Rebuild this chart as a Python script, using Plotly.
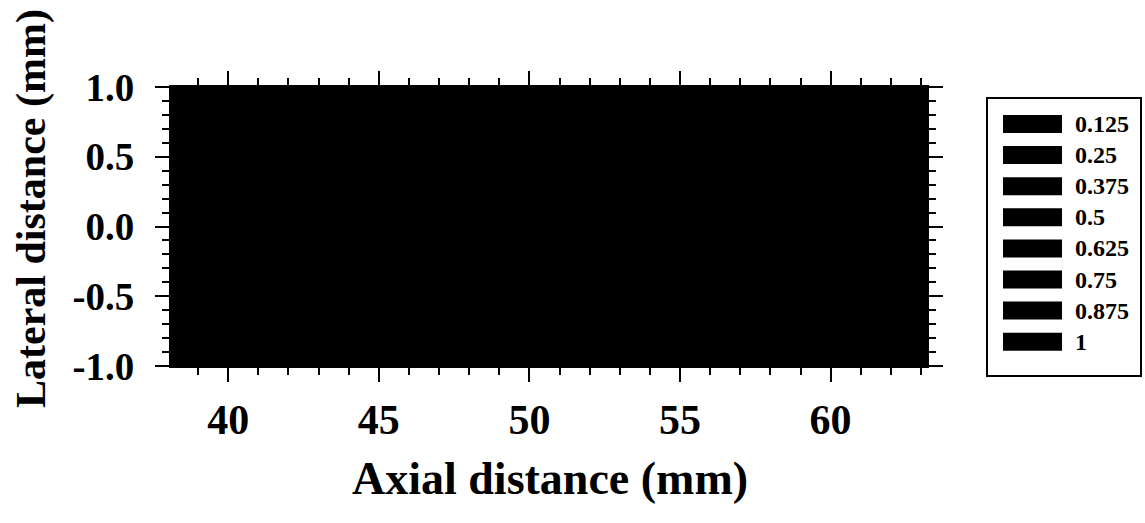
import plotly.graph_objects as go

# ---------------- data ----------------
x_mm = [38.1, 42.0, 46.0, 50.0, 54.0, 58.0, 63.2]
y_mm = [-1.0, -0.5, 0.0, 0.5, 1.0]
intensity = [
    [0.30, 0.38, 0.45, 0.50, 0.46, 0.39, 0.31],
    [0.55, 0.66, 0.78, 0.84, 0.79, 0.67, 0.56],
    [0.70, 0.82, 0.95, 1.00, 0.96, 0.83, 0.71],
    [0.56, 0.67, 0.79, 0.85, 0.80, 0.68, 0.55],
    [0.31, 0.39, 0.46, 0.51, 0.47, 0.38, 0.30],
]
levels = [0.125, 0.25, 0.375, 0.5, 0.625, 0.75, 0.875, 1.0]
level_labels = ["0.125", "0.25", "0.375", "0.5", "0.625", "0.75", "0.875", "1"]
x_ticks = [40, 45, 50, 55, 60]
y_ticks = [-1.0, -0.5, 0.0, 0.5, 1.0]
y_tick_labels = ["-1.0", "-0.5", "0.0", "0.5", "1.0"]

# ---------------- layout geometry ----------------
W, H = 1145, 523
L, R, T, B = 171, 218, 87, 157
PW, PH = W - L - R, H - T - B


def px(xp):
    return (xp - L) / PW


def py(yp):
    return (H - B - yp) / PH


FONT = "Liberation Serif, Times New Roman, serif"

fig = go.Figure()
fig.add_trace(go.Contour(
    x=x_mm, y=y_mm, z=intensity,
    colorscale=[[0, "black"], [1, "black"]],
    showscale=False,
    contours=dict(start=levels[0], end=levels[-1], size=levels[1] - levels[0], coloring="fill"),
    line=dict(width=0, color="black"),
    hoverinfo="skip",
))

axis_common = dict(
    showgrid=False, zeroline=False,
    showline=True, linecolor="black", linewidth=2,
    mirror="allticks", ticks="outside", ticklen=14, tickwidth=2, tickcolor="black",
    ticklabelposition="outside",
)

fig.update_xaxes(
    range=[x_mm[0], x_mm[-1]], tickvals=x_ticks, ticktext=[str(v) for v in x_ticks],
    minor=dict(dtick=1, ticks="outside", ticklen=7, tickwidth=2, tickcolor="black"),
    ticklabelstandoff=2,
    tickfont=dict(family=FONT, size=42, color="black", weight="bold"),
    **axis_common,
)
fig.update_yaxes(
    range=[y_mm[0], y_mm[-1]], tickvals=y_ticks,
    ticktext=[t + "\u2004" for t in y_tick_labels],
    minor=dict(dtick=0.1, ticks="outside", ticklen=7, tickwidth=2, tickcolor="black"),
    tickfont=dict(family=FONT, size=39, color="black", weight="bold"),
    **axis_common,
)

annotations = [
    dict(text="Axial distance (mm)", x=px(550), y=py(478), xref="paper", yref="paper",
         xanchor="center", yanchor="middle", showarrow=False,
         font=dict(family=FONT, size=46, color="black", weight="bold")),
    dict(text="Lateral distance (mm)", x=px(31), y=py(209), xref="paper", yref="paper",
         xanchor="center", yanchor="middle", showarrow=False, textangle=-90,
         font=dict(family=FONT, size=42, color="black", weight="bold")),
]
shapes = [
    dict(type="rect", xref="paper", yref="paper",
         x0=px(987), x1=px(1141), y0=py(376), y1=py(98),
         line=dict(color="black", width=2), fillcolor="white", layer="above"),
]
for i, (lv, lab) in enumerate(zip(levels, level_labels)):
    cy = 124 + i * 31.1
    shapes.append(dict(type="rect", xref="paper", yref="paper",
                       x0=px(1003), x1=px(1062), y0=py(cy + 9), y1=py(cy - 9),
                       line=dict(width=0), fillcolor="black", layer="above"))
    annotations.append(dict(text=lab, x=px(1073), y=py(cy), xref="paper", yref="paper",
                            xanchor="left", yanchor="middle", showarrow=False,
                            font=dict(family=FONT, size=24, color="black", weight="bold")))

fig.update_layout(
    width=W, height=H,
    margin=dict(l=L, r=R, t=T, b=B, pad=0),
    paper_bgcolor="white", plot_bgcolor="black",
    showlegend=False,
    shapes=shapes, annotations=annotations,
)

fig.write_html("out.html")
